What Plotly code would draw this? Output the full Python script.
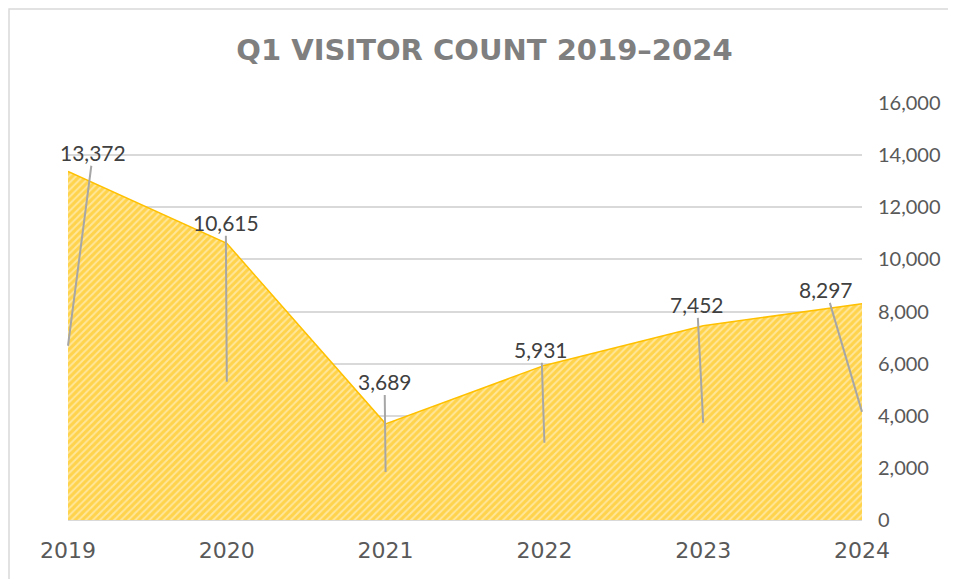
import plotly.graph_objects as go

years = [2019, 2020, 2021, 2022, 2023, 2024]
visitors = [13372, 10615, 3689, 5931, 7452, 8297]
labels = ["13,372", "10,615", "3,689", "5,931", "7,452", "8,297"]
# label offsets in px from the leader-line anchor (middle of the area)
label_dx = [25, -1, -1, -3, -6, -36]
label_dy = [-193, -159, -90, -93, -118, -122]
yticks = [0, 2000, 4000, 6000, 8000, 10000, 12000, 14000, 16000]

fig = go.Figure()
fig.add_trace(go.Scatter(
    x=years, y=visitors,
    mode='lines',
    fill='tozeroy',
    line=dict(color='#FFC000', width=1.5),
    fillcolor='#FFD960',
    fillpattern=dict(shape='/', fgcolor='#FFC000', bgcolor='#FFE699',
                     size=5, solidity=0.6, fillmode='overlay'),
    hoverinfo='skip',
))

for yr, v, lab, dx, dy in zip(years, visitors, labels, label_dx, label_dy):
    fig.add_annotation(
        x=yr, y=v / 2, text=lab,
        showarrow=True, arrowhead=0, arrowwidth=2, arrowcolor='#A6A6A6',
        ax=dx, ay=dy, standoff=0, startstandoff=0,
        font=dict(family='Lato', size=21, color='#404040'),
        borderpad=0,
    )

# chart outline (left and top edges visible)
fig.add_shape(type='rect', xref='paper', yref='paper',
              x0=-0.0743, x1=1.3, y0=-0.3, y1=1.2254,
              line=dict(color='#D9D9D9', width=1.5), layer='below')

fig.update_layout(
    width=948, height=571,
    margin=dict(l=60, r=94, t=95, b=59),
    paper_bgcolor='white', plot_bgcolor='white',
    showlegend=False,
    title=dict(text='<b>Q1 VISITOR COUNT 2019–2024</b>', x=0.5026, xref='container',
               xanchor='center', y=0.9264, yanchor='middle',
               font=dict(family='DejaVu Sans', size=29, color='#7F7F7F')),
    xaxis=dict(
        range=[2019, 2024], tickvals=years, ticktext=[str(y) for y in years],
        showgrid=False, zeroline=False, showline=False, ticks='',
        tickfont=dict(family='DejaVu Sans', size=22, color='#595959'),
        ticklabelstandoff=15,
    ),
    yaxis=dict(
        range=[0, 16000], side='right', tickvals=yticks,
        tickformat=',d', showgrid=True, gridcolor='#D9D9D9', gridwidth=1.5,
        zeroline=True, zerolinecolor='#D9D9D9', zerolinewidth=1.5,
        ticks='', showline=False,
        tickfont=dict(family='Lato', size=20, color='#595959'),
        ticklabelstandoff=15,
    ),
)

fig.write_html("out.html")
